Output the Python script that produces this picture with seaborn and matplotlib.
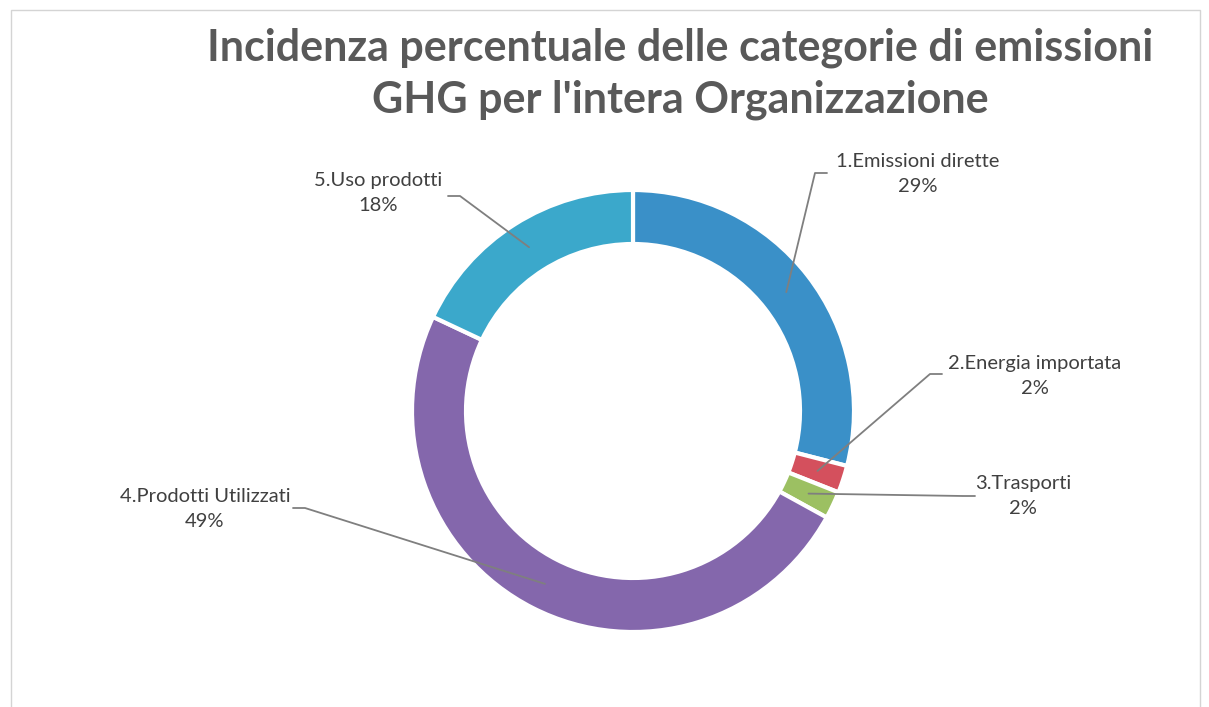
import matplotlib.pyplot as plt
import numpy as np
import seaborn as sns

categories = ["1.Emissioni dirette", "2.Energia importata", "3.Trasporti",
              "4.Prodotti Utilizzati", "5.Uso prodotti"]
shares = [29, 2, 2, 49, 18]
colors = ["#3a90c8", "#d4505d", "#9cc062", "#8467ac", "#3ba8cb"]

# label anchor (text centre) and elbow of the leader line, in pixels from top-left
label_pos = [(918, 174), (1035, 376), (1023, 496), (205, 509), (378, 193)]
elbow_pos = [(815, 173), (930, 374), (963, 496), (305, 508), (460, 196)]

W, H = 1209, 707
CX, CY, R, RING = 633, 411, 221, 54


def main() -> None:
    sns.set_theme(style="white")
    plt.rcParams["font.family"] = ["Lato", "DejaVu Sans"]

    fig = plt.figure(figsize=(W / 100, H / 100), dpi=100)
    ax = fig.add_axes([0, 0, 1, 1])

    wedges, _ = ax.pie(
        shares, colors=colors, startangle=90, counterclock=False,
        center=(CX, H - CY), radius=R,
        wedgeprops=dict(width=RING, edgecolor="white", linewidth=3),
    )
    ax.set_xlim(0, W)
    ax.set_ylim(0, H)
    ax.set_aspect("equal")
    ax.set_axis_off()

    for w, cat, val, (lx, ly), (ex, ey) in zip(wedges, categories, shares, label_pos, elbow_pos):
        mid = np.deg2rad((w.theta1 + w.theta2) / 2)
        r = R - RING / 2
        sx, sy = CX + r * np.cos(mid), (H - CY) + r * np.sin(mid)
        tail = ex + (12 if lx > ex else -12)
        ax.plot([sx, ex, tail], [sy, H - ey, H - ey], color="#7f7f7f", lw=1.3)
        ax.text(lx, H - ly, f"{cat}\n{val}%", ha="center", va="center",
                fontsize=14.5, color="#404040", linespacing=1.6)

    ax.text(680, H - 74, "Incidenza percentuale delle categorie di emissioni\nGHG per l'intera Organizzazione",
            ha="center", va="center", fontsize=31, fontweight="bold",
            color="#595959", linespacing=1.35)

    ax.add_patch(plt.Rectangle((11, -5), 1189, H - 5, fill=False,
                               edgecolor="#d4d4d4", lw=1))

    fig.savefig("out.png", dpi=100)
    plt.close(fig)


if __name__ == "__main__":
    main()
